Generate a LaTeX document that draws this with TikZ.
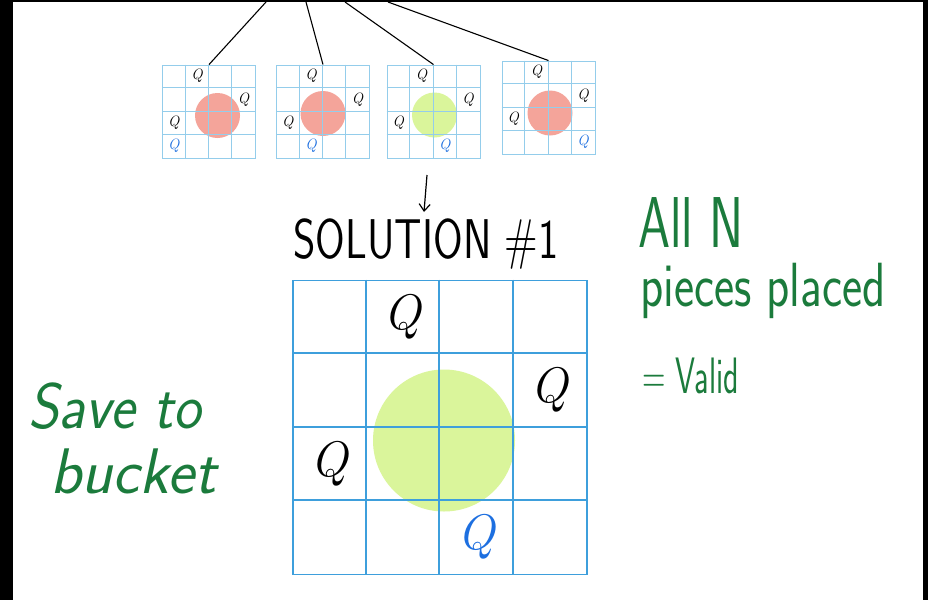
\documentclass[tikz,border=0pt]{standalone}
\usepackage{graphicx}
\usetikzlibrary{arrows.meta,calc}
\definecolor{gridlt}{HTML}{94CDEB}
\definecolor{gridbl}{HTML}{3E9FDC}
\definecolor{redc}{HTML}{F4A49A}
\definecolor{limec}{HTML}{DAF59B}
\definecolor{inkg}{HTML}{1B7B3C}
\definecolor{qblue}{HTML}{1D6FE0}
\newcommand{\handfont}[1]{\fontsize{#1}{#1}\selectfont\sffamily}

\begin{document}
\begin{tikzpicture}[x=1pt,y=-1pt,
              sboard/.style={draw=gridlt,line width=0.9pt,minimum size=93pt,inner sep=0},
              bboard/.style={draw=gridbl,line width=1.8pt,minimum size=294pt,inner sep=0},
              sq/.style={font=\fontsize{15}{15}\selectfont\itshape,inner sep=0},
              bq/.style={font=\fontsize{50}{50}\selectfont\itshape,inner sep=0},
              note/.style={text=inkg,anchor=base west,inner sep=0},
              arr/.style={line width=1.2pt,-{Straight Barb[length=7pt,width=11pt]}}]
  \useasboundingbox (0,0) rectangle (928,600);
  \fill[black] (0,0) rectangle (928,600);
  \fill[white] (13,2) rectangle (923,600);
  % the four small boards
  \foreach \n/\cx/\cy/\dx/\dy/\dc/\bc in {b1/209/111.5/8.5/4/redc/0,
      b2/323/111.5/0/2/redc/1, b3/433.5/111.5/1/3.5/limec/2,
      b4/548.5/107.5/1.5/5.5/redc/3}{
    \fill[\dc] (\cx+\dx,\cy+\dy) circle (22.5);
    \node[sboard] (\n) at (\cx,\cy) {};
    \foreach \k in {1,2,3}{
      \draw[gridlt,line width=0.9pt] (\n.north west) ++(\k*23.25,0) -- ++(0,93);
      \draw[gridlt,line width=0.9pt] (\n.north west) ++(0,\k*23.25) -- ++(93,0);
    }
    \node[sq] (\n q1) at ($(\n.north west)+(34.9,11.6)$) {Q};
    \node[sq] (\n q2) at ($(\n.north west)+(81.4,34.9)$) {Q};
    \node[sq] (\n q3) at ($(\n.north west)+(11.6,58.1)$) {Q};
    \node[sq,text=qblue] (\n q4) at ($(\n.north west)+(\bc*23.25+11.6,81.4)$) {Q};
  }
  \coordinate (t1) at (266,2);
  \coordinate (t2) at (306,2);
  \coordinate (t3) at (345,2);
  \coordinate (t4) at (388,2);
  \draw[line width=1.1pt] (t1) -- (b1.north) (t2) -- (b2.north)
    (t3) -- (b3.north) (t4) -- (b4.north);
  % solution
  \coordinate (arrtop) at (427,175);
  \coordinate (arrtip) at (424,212);
  \draw[arr] (arrtop) -- (arrtip);
  \node[inner sep=0,font=\handfont{40}] (sol) at (426,244)
    {\scalebox{1.07}[1.4]{SOLUTION \#1}};
  \fill[limec] (444,440.5) circle (71);
  \node[bboard] (bb) at (440,427.5) {};
  \foreach \k in {1,2,3}{
    \draw[gridbl,line width=1.8pt] (bb.north west) ++(\k*73.5,0) -- ++(0,294);
    \draw[gridbl,line width=1.8pt] (bb.north west) ++(0,\k*73.5) -- ++(294,0);
  }
  \node[bq] (q1) at ($(bb.north west)+(110.25,36.75)$) {Q};
  \node[bq] (q2) at ($(bb.north west)+(257.25,110.25)$) {Q};
  \node[bq] (q3) at ($(bb.north west)+(36.75,183.75)$) {Q};
  \node[bq,text=qblue] (q4) at ($(bb.north west)+(183.75,257.25)$) {Q};
  % notes
  \node[note,font=\handfont{48}] (alln) at (638,247) {\scalebox{1.07}[1.5]{All N}};
  \node[note,font=\handfont{48}] (pieces) at (640,306) {\scalebox{1}[1.3]{pieces placed}};
  \node[note,font=\handfont{32}] (valid) at (642,393) {\scalebox{1}[1.6]{= Valid}};
  \node[note,font=\handfont{56}\slshape] (save) at (28,428) {\scalebox{1.05}[1.15]{Save to}};
  \node[note,font=\handfont{56}\slshape] (bucket) at (50,493) {\scalebox{1.15}[1.15]{bucket}};
\end{tikzpicture}
\end{document}
